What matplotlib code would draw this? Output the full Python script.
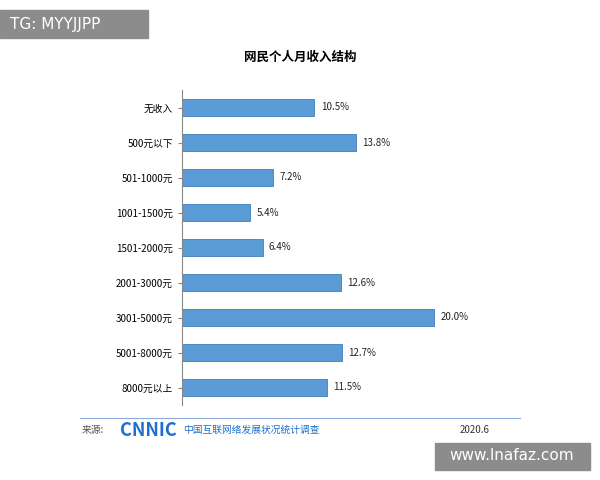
import matplotlib
matplotlib.use("Agg")
import matplotlib.pyplot as plt
from matplotlib.patches import Rectangle

plt.rcParams['font.family'] = ['Noto Sans CJK SC', 'DejaVu Sans']

categories = ["无收入", "500元以下", "501-1000元", "1001-1500元", "1501-2000元",
              "2001-3000元", "3001-5000元", "5001-8000元", "8000元以上"]
values = [10.5, 13.8, 7.2, 5.4, 6.4, 12.6, 20.0, 12.7, 11.5]
labels = ["10.5%", "13.8%", "7.2%", "5.4%", "6.4%", "12.6%", "20.0%", "12.7%", "11.5%"]

fig = plt.figure(figsize=(6, 4.8), dpi=100)
W, H = 600, 480
ax = fig.add_axes([182/W, 1-405/H, (434-182)/W/20*23, (405-90)/H])
y = list(range(len(categories)))
ax.barh(y, values, height=0.47, color="#5b9bd5", edgecolor="#3f7fbf", linewidth=0.6)
for yi, v, l in zip(y, values, labels):
    ax.text(v + 0.5, yi, l, va="center", ha="left", fontsize=7, color="#222222")
ax.set_yticks(y)
ax.set_yticklabels(categories, fontsize=7)
ax.set_ylim(len(categories) - 0.5, -0.5)
ax.set_xlim(0, 23)
ax.set_xticks([])
for s in ["top", "right", "bottom"]:
    ax.spines[s].set_visible(False)
ax.spines["left"].set_color("#888888")
ax.tick_params(axis="y", length=3, color="#888888")

fig.text(300/W, 1-57/H, "网民个人月收入结构", ha="center", va="center", fontsize=9, fontweight="bold")
fig.add_artist(plt.Line2D([80/W, 520/W], [1-418/H, 1-418/H], color="#8faadc", lw=0.8))
fig.text(82/W, 1-430/H, "来源:", fontsize=7, va="center", color="#555555")
fig.text(120/W, 1-430/H, "CNNIC", fontsize=13, fontweight="bold", va="center", color="#1f6fd0")
fig.text(183/W, 1-430/H, "中国互联网络发展状况统计调查", fontsize=7, va="center", color="#1f6fd0")
fig.text(490/W, 1-430/H, "2020.6", fontsize=7, va="center", ha="right", color="#333333")

fig.add_artist(Rectangle((0, 1-38/H), 148/W, 28/H, color="#8c8c8c", transform=fig.transFigure))
fig.text(10/W, 1-24/H, "TG: MYYJJPP", fontsize=11, va="center", color="white", family="DejaVu Sans")
fig.add_artist(Rectangle((435/W, 1-470/H), 155/W, 27/H, color="#8c8c8c", transform=fig.transFigure))
fig.text(512/W, 1-456/H, "www.lnafaz.com", fontsize=11, va="center", ha="center", color="white", family="DejaVu Sans")

fig.savefig("out.png", dpi=100)
